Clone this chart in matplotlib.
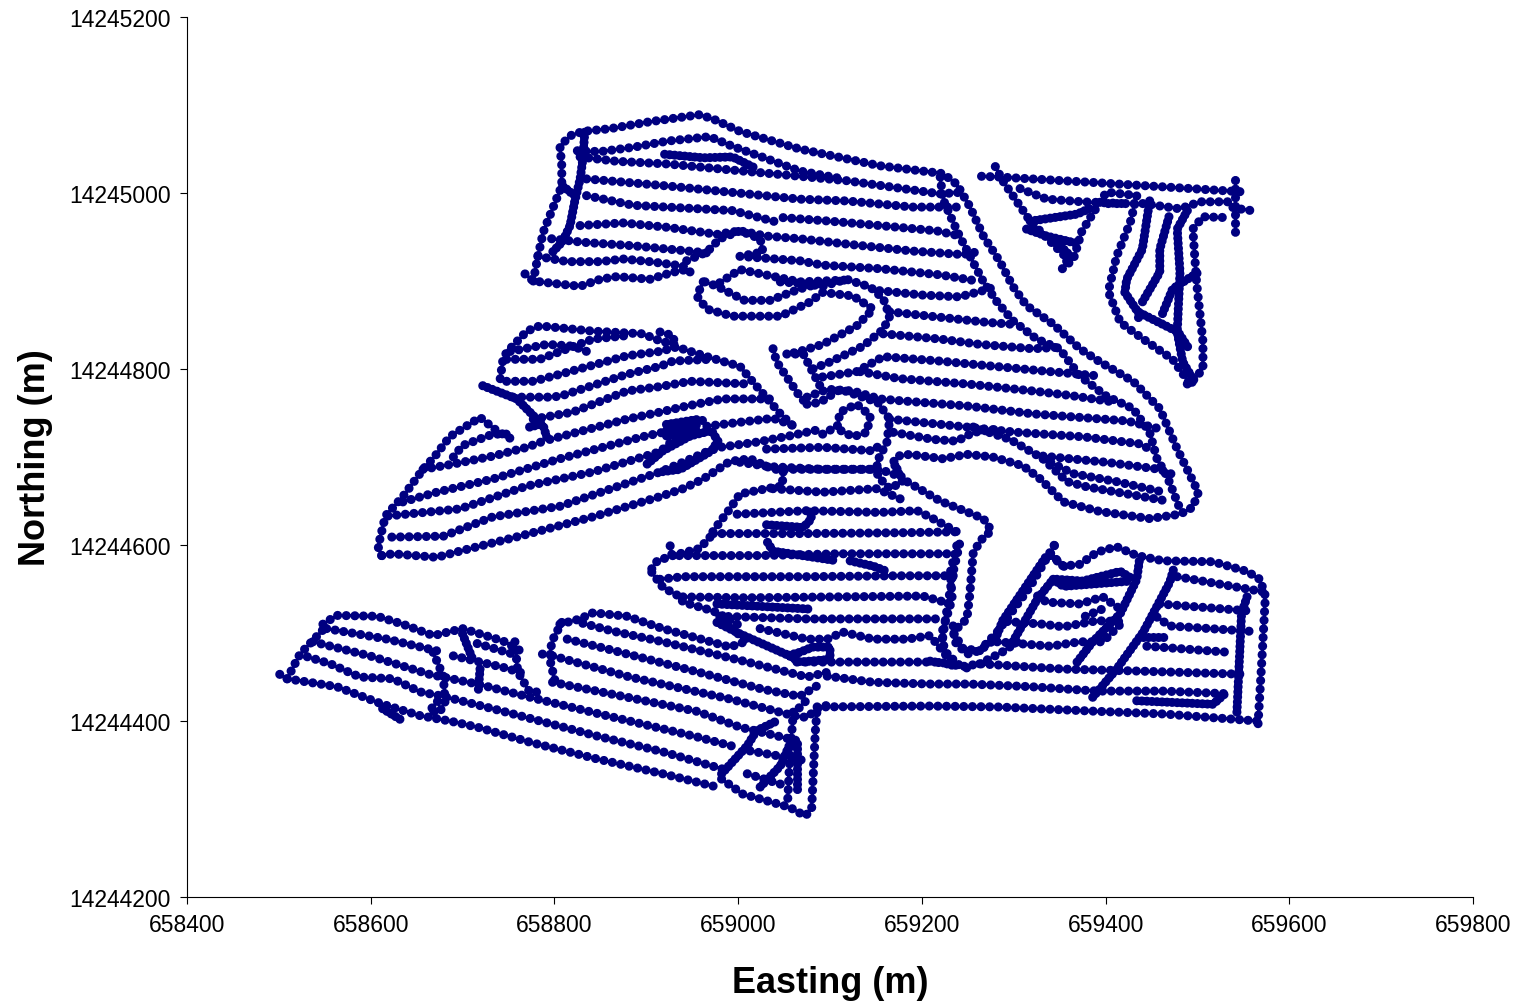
import matplotlib
matplotlib.use('Agg')
import matplotlib.pyplot as plt

plt.rcParams['font.family'] = ['Liberation Sans', 'DejaVu Sans']

# GPS survey passes, (easting - E0, northing - N0) in metres
E0 = 658000
N0 = 14244000

x_ticks = [658400, 658600, 658800, 659000, 659200, 659400, 659600, 659800]
y_ticks = [14244200, 14244400, 14244600, 14244800, 14245000, 14245200]

# north block + the long serpentine pass
top_block = [
    [(768,908),(777,900),(801,897),(828,894),(850,902),(868,905),(904,902),(929,910),(948,914)],
    [(782,928),(814,922),(850,922),(875,925),(904,922),(940,917),(948,910)],
    [(777,900),(782,928),(788,956),(801,990),(808,1008),(808,1031),(806,1053),(817,1065),(831,1070),(860,1073),(904,1081),(958,1089),(973,1084),(1002,1070),(1067,1050),(1154,1031),(1223,1022),(1238,1010),(1252,985),(1267,951),(1285,922),(1299,894),(1314,872),(1343,851),(1372,823),(1394,808),(1430,786),(1459,755),(1478,709),(1501,660),(1495,643),(1481,635),(1448,630),(1394,638),(1354,649),(1329,675),(1310,690),(1277,700),(1249,703),(1223,698),(1187,703),(1173,701),(1169,694),(1179,675),(1220,650),(1267,630),(1276,616),(1267,609),(1256,592),(1252,542),(1249,516),(1234,501),(1245,482),(1263,480),(1282,501),(1318,553),(1347,605)],
    [(835,1016),(923,1008),(1067,993),(1118,991),(1190,984),(1241,984)],
    [(835,997),(886,986),(958,982),(994,980),(1042,967)],
    [(1049,972),(1100,968),(1154,963),(1216,957),(1238,952)],
    [(828,963),(875,966),(923,961),(977,953),(1002,957),(1031,951),(1067,948),(1118,942),(1190,934),(1245,930),(1265,934)],
    [(797,948),(831,944),(886,940),(966,932)],
    [(944,923),(966,933),(980,948),(1002,957),(1024,948),(1027,933),(1002,928),(1067,923),(1092,918),(1154,914),(1220,907),(1260,900)],
    [(1220,1018),(1223,993),(1231,974),(1241,951),(1255,923),(1267,899),(1282,876),(1299,855),(1325,834),(1350,823),(1372,792),(1401,769),(1430,755),(1448,728),(1456,698),(1467,678),(1481,641)],
    [(825,1048),(850,1047),(886,1052),(923,1059),(969,1064),(994,1053),(1031,1039),(1067,1025),(1114,1016)],
    [(828,1041),(868,1036),(923,1033),(994,1026),(1067,1019),(1118,1014),(1179,1005),(1220,999),(1245,1001)],
]
top_dense = [
    [(920,1044),(962,1040),(994,1041),(1021,1027)],
    [(833,1069),(831,1039),(828,1016),(822,990),(817,963),(809,945),(798,933)],
    [(809,1008),(822,997)],
]

# the S shaped ribbon and the rows east of it
s_rows = [
    [(1046,899),(1071,897),(1092,894),(1118,902),(1144,893),(1158,880),(1165,860),(1158,845),(1136,826),(1100,808),(1081,800)],
    [(962,899),(955,883),(966,868),(994,860),(1046,860),(1078,876),(1092,887),(1125,883),(1147,868),(1129,849),(1092,828),(1064,819),(1053,817)],
    [(964,899),(977,894),(1007,878),(1035,878),(1067,891),(1095,899)],
    [(980,898),(1002,913),(1067,899),(1116,901)],
    [(1154,889),(1201,884),(1241,882),(1263,888),(1282,894)],
    [(1165,865),(1209,860),(1271,853),(1296,851)],
    [(1158,840),(1220,834),(1263,828),(1321,823),(1354,825)],
    [(1092,791),(1129,797),(1158,814),(1220,809),(1249,806),(1340,797),(1394,792)],
    [(1133,797),(1176,789),(1249,783),(1321,775),(1361,770),(1412,762)],
    [(1075,768),(1097,777),(1125,775),(1154,766),(1176,764),(1249,758),(1321,749),(1423,741),(1459,732)],
    [(1165,743),(1249,734),(1304,728),(1375,723),(1437,715),(1448,709)],
    [(1169,728),(1212,720),(1238,718),(1256,728),(1285,732)],
    [(1256,734),(1296,720),(1332,698),(1358,672),(1380,666),(1467,650)],
    [(1332,701),(1401,694),(1459,686),(1478,678)],
    [(1332,698),(1365,681),(1412,672),(1459,661)],
    [(1038,823),(1042,808),(1067,769),(1075,760)],
    [(1053,817),(1071,817),(1089,781)],
]

# west block
west_block = [
    [(612,588),(624,590),(672,586),(697,593),(762,610),(842,632),(915,655),(940,664),(962,675),(991,695),(1013,698),(1038,686),(1147,686)],
    [(623,609),(679,610),(733,632),(806,644),(915,683),(940,694),(966,706),(980,711),(1021,717),(1056,724),(1092,732)],
    [(619,633),(697,641),(770,667),(842,683),(915,706),(937,726)],
    [(635,649),(672,660),(733,675),(806,698),(896,723),(918,728),(940,735),(966,743)],
    [(966,735),(1038,744),(1060,736)],
    [(657,686),(690,692),(733,701),(770,711),(788,718)],
    [(795,720),(879,743),(915,751),(940,757),(983,766),(1038,766)],
    [(777,743),(820,751),(879,775),(915,780),(948,786),(1010,783)],
    [(755,768),(792,768),(806,769),(879,794),(915,803),(929,809),(969,811)],
    [(748,786),(777,786),(806,794),(879,815),(915,820),(933,825),(966,814),(1002,803),(1013,789),(1046,749),(1060,735)],
    [(741,789),(744,811),(748,819),(770,843),(784,849),(842,843),(896,840),(915,832),(937,826)],
    [(752,820),(792,828),(820,826),(835,820)],
    [(748,811),(784,811),(814,823),(842,834),(879,838)],
    [(612,588),(608,598),(616,633),(635,655),(657,686),(670,701),(686,723),(719,745),(737,730),(759,717)],
    [(690,700),(700,713),(733,726),(755,726)],
    [(915,842),(929,838),(931,828)],
]
west_dense = [
    [(722,781),(759,766),(777,747),(788,735),(793,718)],
    [(773,734),(788,738)],
    [(901,692),(918,707),(948,724),(971,730),(978,718),(971,707),(937,686),(915,683)],
    [(922,737),(958,743)],
    [(922,724),(958,730)],
    [(922,730),(958,737)],
]

# the little loop and the rows south of it
loop_rows = [
    [(1092,726),(1108,735),(1111,751),(1129,760),(1144,747),(1140,728),(1125,723),(1108,732)],
    [(1075,760),(1089,762),(1111,777),(1152,762),(1165,743),(1162,717),(1151,694),(1152,678),(1165,664),(1179,672),(1169,694)],
    [(1031,709),(1092,711),(1147,707),(1158,717)],
    [(1002,694),(1035,689),(1092,686),(1154,686),(1176,678)],
    [(1038,664),(1092,660),(1151,664),(1184,649)],
    [(1049,683),(1048,667),(1031,664),(1002,658),(991,641),(980,626),(969,610)],
]

# middle block
mid_block = [
    [(999,635),(1075,639),(1154,637),(1195,639),(1212,630),(1238,615)],
    [(973,613),(1075,613),(1184,614),(1238,615)],
    [(926,599),(928,588),(1024,588),(1108,590),(1231,590)],
    [(906,573),(912,582),(929,588),(958,596),(973,613)],
    [(906,569),(918,552),(937,541),(940,535),(973,525),(984,519),(1002,508)],
    [(915,561),(940,564),(1075,564),(1173,565),(1238,565)],
    [(940,541),(1010,540),(1103,541),(1201,542),(1225,535)],
    [(980,519),(1075,516),(1169,516),(1220,516)],
    [(1024,505),(1075,493),(1097,493),(1114,501),(1147,493),(1184,493),(1209,497),(1227,474)],
    [(1064,467),(1111,467),(1220,467),(1238,462)],
    [(1238,599),(1231,569),(1233,539),(1222,501),(1223,478),(1238,467)],
]
mid_dense = [
    [(1031,623),(1071,620),(1080,630),(1078,638)],
    [(1032,603),(1038,593),(1108,582)],
    [(1122,582),(1147,576),(1162,570)],
    [(977,533),(1081,527)],
    [(977,512),(1002,499),(1056,474),(1067,467),(1100,470),(1100,484),(1081,484),(1067,478),(1053,474)],
]

# south east block
east_block = [
    [(1097,451),(1147,444),(1209,442),(1252,442),(1318,439),(1391,434),(1463,434),(1532,431)],
    [(1086,416),(1209,417),(1282,416),(1391,411),(1463,408),(1565,400)],
    [(1566,397),(1570,467),(1574,542),(1568,561),(1554,570),(1517,581),(1463,582),(1434,588),(1412,598),(1391,592),(1372,578),(1354,576),(1340,590),(1347,605)],
    [(1209,468),(1245,462),(1263,465),(1354,459),(1427,457),(1554,453)],
    [(1456,518),(1470,508),(1557,502)],
    [(1459,533),(1557,525)],
    [(1445,485),(1535,478)],
    [(1478,564),(1571,547)],
    [(1282,490),(1340,485),(1372,490),(1397,490),(1419,513)],
    [(1293,513),(1332,510),(1354,507),(1391,514),(1416,513)],
    [(1326,542),(1336,535),(1372,533),(1397,541),(1419,525)],
    [(1378,519),(1396,527)],
    [(1241,601),(1234,569),(1227,524),(1222,490),(1231,468),(1252,459)],
    [(1234,508),(1236,490),(1249,476),(1263,480),(1277,491)],
    [(1263,465),(1287,478),(1304,490)],
    [(1340,588),(1358,573)],
]
east_dense = [
    [(1554,541),(1548,522),(1543,410)],
    [(1441,495),(1467,495)],
    [(1434,423),(1517,419),(1530,431)],
    [(1386,427),(1412,459),(1441,501),(1470,558),(1475,576)],
    [(1369,467),(1386,490),(1416,522),(1434,561),(1437,584)],
    [(1343,561),(1354,553),(1427,559)],
    [(1347,561),(1375,559),(1416,570),(1430,561)],
    [(1299,490),(1326,539),(1343,561)],
    [(1280,493),(1288,514),(1336,588)],
]

# north east corner
corner_block = [
    [(1265,1019),(1287,1018),(1386,1012),(1554,1001)],
    [(1280,1030),(1288,1014),(1318,968),(1359,925),(1353,914),(1365,925),(1374,956),(1394,990),(1401,1001),(1434,997),(1427,967),(1412,928),(1403,888),(1416,853),(1441,834),(1473,811),(1492,783),(1506,800),(1506,831),(1499,899),(1495,959),(1506,973),(1533,972)],
    [(1307,1005),(1336,993),(1375,990),(1419,988)],
    [(1403,988),(1441,988),(1481,982),(1503,990),(1535,990),(1539,983),(1559,980)],
    [(1541,1015),(1541,956)],
]
corner_dense = [
    [(1318,968),(1369,976),(1386,984)],
    [(1314,959),(1336,951),(1372,942)],
    [(1347,944),(1363,927)],
    [(1448,991),(1440,936),(1423,902),(1421,887),(1435,865),(1479,842),(1492,821)],
    [(1435,865),(1435,857)],
    [(1469,973),(1459,936),(1459,910),(1440,876)],
    [(1489,980),(1478,959),(1481,910),(1478,842),(1484,808),(1495,789)],
    [(1462,863),(1473,891),(1489,902),(1503,911)],
    [(1489,783),(1497,786)],
]

# south west field, first part
sw_block = [
    [(501,453),(509,448),(563,439),(613,419),(654,406),(686,400),(716,393),(773,376),(846,357),(918,340),(977,325)],
    [(531,473),(556,465),(588,450),(624,448),(654,433),(679,428),(744,411),(817,391),(846,383),(918,365),(991,343)],
    [(537,490),(599,474),(664,453),(716,442),(781,425),(857,406),(955,382),(999,370)],
    [(552,505),(618,493),(679,478)],
    [(690,474),(744,461),(770,453)],
    [(548,510),(563,520),(607,519),(635,510),(668,497),(700,505),(744,491),(766,478)],
    [(716,488),(755,476)],
    [(509,448),(523,476),(552,508)],
    [(757,490),(760,456),(773,433),(784,433)],
    [(668,478),(679,451),(681,422),(675,410),(664,411),(672,422),(681,425)],
]
sw_dense = [
    [(700,499),(711,470)],
    [(719,459),(717,433)],
    [(613,414),(635,400)],
]

# south west field, second part
sw2_block = [
    [(806,510),(828,516),(842,523),(879,519),(918,505),(991,484),(1010,491),(984,512)],
    [(831,511),(864,502),(918,490),(1010,467),(1075,450),(1100,456)],
    [(814,493),(857,482),(955,456),(1027,436),(1067,428),(1086,440)],
    [(798,474),(882,450),(991,425),(1060,406),(1075,404),(1086,414),(1100,419)],
    [(798,444),(846,434),(955,411),(1002,393),(1071,376)],
    [(1013,366),(1073,355)],
    [(1010,340),(1053,326)],
    [(982,334),(1005,317),(1056,302),(1073,292),(1080,300),(1084,388),(1086,414)],
    [(1060,410),(1056,353),(1054,311)],
    [(1073,422),(1060,408)],
    [(808,512),(797,490),(795,470),(801,444)],
    [(787,476),(797,474)],
]
sw2_dense = [
    [(982,340),(1010,372),(1020,389),(1042,400)],
    [(1024,325),(1046,349),(1059,380)],
    [(1064,323),(1064,376)],
]

dotted = top_block + s_rows + west_block + loop_rows + mid_block + east_block + corner_block + sw_block + sw2_block
dense = top_dense + west_dense + mid_dense + east_dense + corner_dense + sw_dense + sw2_dense

fig = plt.figure(figsize=(15.22, 10.04), dpi=100)
ax = fig.add_axes([187 / 1522, 1 - 898 / 1004, 1286 / 1522, 880 / 1004])

for track in dotted:
    xs = [E0 + p[0] for p in track]
    ys = [N0 + p[1] for p in track]
    ax.plot(xs, ys, color='#000080', lw=6.6, linestyle=(0, (0.001, 0.94)),
            dash_capstyle='round', dash_joinstyle='round')
for track in dense:
    xs = [E0 + p[0] for p in track]
    ys = [N0 + p[1] for p in track]
    ax.plot(xs, ys, color='#000080', lw=6.6, linestyle=(0, (0.001, 0.55)),
            dash_capstyle='round', dash_joinstyle='round')

ax.set_xlim(x_ticks[0], x_ticks[-1])
ax.set_ylim(y_ticks[0], y_ticks[-1])
ax.set_xticks(x_ticks)
ax.set_xticklabels([str(v) for v in x_ticks])
ax.set_yticks(y_ticks)
ax.set_yticklabels([str(v) for v in y_ticks])
ax.tick_params(length=5.2, width=0.8, labelsize=16.5, pad=6.5)

ax.spines['top'].set_visible(False)
ax.spines['right'].set_visible(False)
ax.spines['left'].set_linewidth(0.8)
ax.spines['bottom'].set_linewidth(0.8)

ax.set_xlabel('Easting (m)', fontsize=26, fontweight='bold', va='center')
ax.set_ylabel('Northing (m)', fontsize=26, fontweight='bold', va='center')
ax.xaxis.set_label_coords(0.5, -0.0975)
ax.yaxis.set_label_coords(-0.1175, 0.5)

fig.savefig('out.png', dpi=100)
